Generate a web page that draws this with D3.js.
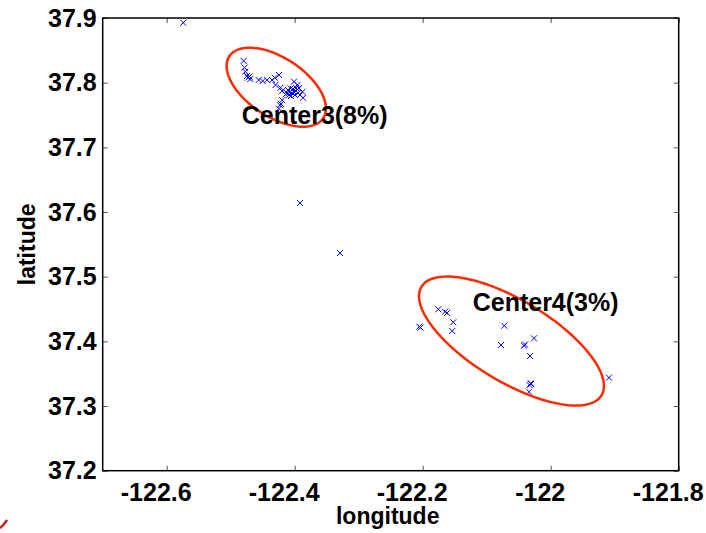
<!DOCTYPE html>
<html>
<head>
<meta charset="utf-8">
<script src="https://cdn.jsdelivr.net/npm/d3@7"></script>
<style>
  body { margin: 0; background: #fff; }
  svg { display: block; }
  text { font-family: "Liberation Sans", Arial, Helvetica, sans-serif; }
</style>
</head>
<body>
<div id="chart-area"></div>
<script>
// Chart size and plot box
const W = 706, H = 533;
const box = { left: 102.7, right: 678.7, top: 18, bottom: 470.7 };

// Data: longitude / latitude of each point
const lonPts = [
  // outliers
  -122.5741, -122.3917, -122.3292,
  // cluster around Center3
  -122.4798, -122.4783, -122.4772, -122.4730, -122.4745, -122.4706, -122.4694,
  -122.4563, -122.4500, -122.4431, -122.4353, -122.4311, -122.4247, -122.4300,
  -122.4222, -122.4195, -122.4142, -122.4011, -122.3958, -122.4064, -122.3880,
  -122.3870, -122.4195, -122.4231, -122.4214, -122.4247,
  -122.4105, -122.4073, -122.4042, -122.4011, -122.3980, -122.3948, -122.3995,
  -122.4058, -122.3933, -122.4027, -122.4120, -122.3917, -122.3980, -122.4089,
  // cluster around Center4
  -122.1756, -122.1652, -122.1620, -122.1522, -122.1538, -122.2053, -122.2034,
  -122.0725, -122.0777, -122.0417, -122.0402, -122.0261, -122.0323,
  -122.0313, -122.0331, -122.0308, -122.0339, -121.9089
];
const latPts = [
  37.8927, 37.6139, 37.5366,
  37.8337, 37.8233, 37.8171, 37.8077, 37.8103, 37.8095, 37.8057,
  37.8041, 37.8026, 37.8041, 37.8041, 37.8077, 37.8119, 37.7964,
  37.7922, 37.7870, 37.7817, 37.8015, 37.7964, 37.7911, 37.7859,
  37.7766, 37.7729, 37.7652, 37.7670, 37.7599,
  37.7887, 37.7856, 37.7840, 37.7856, 37.7871, 37.7840, 37.7809,
  37.7794, 37.7918, 37.7902, 37.7840, 37.7809, 37.7918, 37.7809,
  37.4496, 37.4459, 37.4439, 37.4295, 37.4160, 37.4227, 37.4214,
  37.4242, 37.3944, 37.3933, 37.3951, 37.4047, 37.3773,
  37.3351, 37.3325, 37.3341, 37.3221, 37.3438
];

// Cluster ellipses (centre, semi-axes in degrees, tilt in degrees)
const centerNames = ['Center3(8%)', 'Center4(3%)'];
const centerLon = [-122.4288, -122.0613];
const centerLat = [37.7930, 37.4005];
const radiusA = [0.0876, 0.1638];
const radiusB = [0.0457, 0.0632];
const tilt = [-32.9, -30.7];
const labelLon = [-122.4828, -122.1219];
const labelLat = [37.7640, 37.4743];

// Tick values
const xTicks = [-122.6, -122.4, -122.2, -122, -121.8];
const yTicks = [37.2, 37.3, 37.4, 37.5, 37.6, 37.7, 37.8, 37.9];

const svg = d3.select('#chart-area')
  .append('svg')
    .attr('width', W)
    .attr('height', H);

const x = d3.scaleLinear().domain([-122.7, -121.8]).range([box.left, box.right]);
const y = d3.scaleLinear().domain([37.2, 37.9]).range([box.bottom, box.top]);

// Axes with inward ticks
const fmt = d => String(+d.toFixed(1));
function styleAxis(g) {
  g.select('.domain').remove();
  g.selectAll('.tick line').attr('stroke', '#555').attr('stroke-width', 1);
  g.selectAll('.tick text')
    .attr('font-size', '25px')
    .attr('font-weight', 'bold')
    .attr('fill', '#000');
}
svg.append('g')
  .attr('transform', 'translate(0,' + box.bottom + ')')
  .call(d3.axisBottom(x).tickValues(xTicks).tickFormat(fmt).tickSizeInner(-5).tickSizeOuter(0).tickPadding(12.5))
  .call(styleAxis)
  .call(g => g.selectAll('.tick text').attr('dx', -11));
svg.append('g')
  .attr('transform', 'translate(0,' + box.top + ')')
  .call(d3.axisTop(x).tickValues(xTicks).tickFormat('').tickSizeInner(-5).tickSizeOuter(0))
  .call(styleAxis);
svg.append('g')
  .attr('transform', 'translate(' + box.left + ',0)')
  .call(d3.axisLeft(y).tickValues(yTicks).tickFormat(fmt).tickSizeInner(-5).tickSizeOuter(0).tickPadding(6))
  .call(styleAxis);
svg.append('g')
  .attr('transform', 'translate(' + box.right + ',0)')
  .call(d3.axisRight(y).tickValues(yTicks).tickFormat('').tickSizeInner(-5).tickSizeOuter(0))
  .call(styleAxis);

// Box
svg.append('rect')
  .attr('x', box.left)
  .attr('y', box.top)
  .attr('width', box.right - box.left)
  .attr('height', box.bottom - box.top)
  .attr('fill', 'none')
  .attr('stroke', '#000')
  .attr('stroke-width', 1.5);

// Points as x markers
const pts = lonPts.map((lon, i) => [lon, latPts[i]]);
const s = 3;
svg.append('g')
  .selectAll('path')
  .data(pts)
  .join('path')
    .attr('d', d => {
      const px = x(d[0]), py = y(d[1]);
      return 'M' + (px - s) + ',' + (py - s) + 'L' + (px + s) + ',' + (py + s) +
             'M' + (px - s) + ',' + (py + s) + 'L' + (px + s) + ',' + (py - s);
    })
    .attr('stroke', '#0000ff')
    .attr('stroke-width', 1)
    .attr('fill', 'none');

// Ellipses
const line = d3.line().x(d => x(d[0])).y(d => y(d[1])).curve(d3.curveLinearClosed);
centerNames.forEach((name, i) => {
  const phi = tilt[i] * Math.PI / 180;
  const ring = d3.range(0, 120).map(k => {
    const t = k / 120 * 2 * Math.PI;
    const u = radiusA[i] * Math.cos(t), v = radiusB[i] * Math.sin(t);
    return [centerLon[i] + u * Math.cos(phi) - v * Math.sin(phi),
            centerLat[i] + u * Math.sin(phi) + v * Math.cos(phi)];
  });
  svg.append('path')
    .attr('d', line(ring))
    .attr('fill', 'none')
    .attr('stroke', '#ff2a00')
    .attr('stroke-width', 2.5);

  svg.append('text')
    .attr('x', x(labelLon[i]))
    .attr('y', y(labelLat[i]))
    .attr('dy', '0.72em')
    .attr('font-size', '25px')
    .attr('font-weight', 'bold')
    .text(name);
});

// Axis labels
svg.append('text')
  .attr('x', (box.left + box.right) / 2 - 3)
  .attr('y', 524)
  .attr('text-anchor', 'middle')
  .attr('font-size', '23px')
  .attr('font-weight', 'bold')
  .text('longitude');

svg.append('text')
  .attr('transform', 'translate(35,' + (box.top + box.bottom) / 2 + ') rotate(-90)')
  .attr('text-anchor', 'middle')
  .attr('font-size', '23px')
  .attr('font-weight', 'bold')
  .text('latitude');

// Bit of slide decoration in the corner
svg.append('path')
  .attr('d', 'M0,528 Q4,525 7,520')
  .attr('fill', 'none')
  .attr('stroke', '#d01c1c')
  .attr('stroke-width', 2.5);
</script>
</body>
</html>
